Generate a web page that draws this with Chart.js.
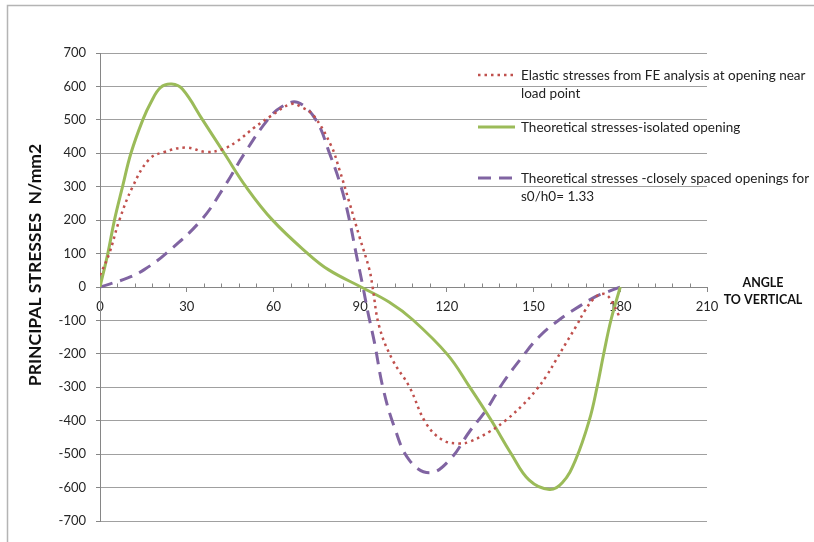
<!DOCTYPE html>
<html>
<head>
<meta charset="utf-8">
<title>Principal stresses</title>
<script src="https://cdn.jsdelivr.net/npm/chart.js"></script>
<style>
  body { margin: 0; background: #fff; }
</style>
</head>
<body>
<canvas id="stress-chart" width="814" height="542"></canvas>
<script>
// angle to vertical (degrees) and principal stress (N/mm2)
const feAngles = [0, 3.2, 6.7, 11.3, 17, 22.3, 29.8, 36.7, 42.4, 47.6, 53.4, 59.2, 66, 70, 74, 80, 82.8, 86.3, 89.7, 93.2, 94.3, 96.6, 101.2, 107, 112.8, 118.6, 124.3, 127.8, 134.7, 140.5, 146.2, 150.9, 154.3, 157.8, 161.2, 164.7, 167.6, 170.5, 172.8, 175.1, 177.4, 179.1, 180];
const feStress = [35, 100, 200, 300, 382, 404, 417, 404, 412, 437, 477, 512, 547, 537, 512, 422, 352, 252, 152, 52, 0, -118, -218, -298, -408, -458, -468, -463, -433, -398, -353, -308, -268, -218, -168, -118, -73, -38, -23, -23, -48, -78, -96];

const isolatedAngles = [0, 2.7, 5, 7.8, 10.7, 14.8, 17.6, 21, 24.8, 28.5, 35.5, 43, 50.5, 59.7, 71.9, 79, 90.3, 100, 108.2, 120.3, 127.8, 135.3, 142.2, 148.5, 155.5, 160, 164.5, 169.3, 172, 174.3, 176.8, 180];
const isolatedStress = [0, 100, 200, 300, 400, 500, 552, 597, 607, 592, 500, 400, 300, 200, 100, 52, 0, -45, -98, -203, -298, -398, -498, -578, -606, -585, -518, -398, -298, -198, -98, 0];

const closeAngles = [0, 9.6, 15.3, 22.8, 35, 43, 50, 58, 63, 68.4, 74.7, 79.4, 83.4, 86.3, 88.6, 91, 92.5, 95, 97.8, 101.8, 107, 114, 120.9, 127.8, 133.6, 139.3, 146.2, 152, 158.9, 165.8, 171.6, 175.1, 180];
const closeStress = [0, 27, 52, 100, 200, 300, 400, 500, 540, 552, 500, 400, 300, 200, 100, 0, -68, -168, -298, -418, -518, -556, -518, -433, -368, -288, -208, -148, -98, -58, -28, -16, 0];

const seriesNames = [
    ['Elastic stresses from FE analysis at opening near', 'load point'],
    ['Theoretical stresses-isolated opening'],
    ['Theoretical stresses -closely spaced openings for', 's0/h0= 1.33']
];
const xLabelEvery = 30;
const yAxisTitle = 'PRINCIPAL STRESSES  N/mm2';
const xAxisTitle = ['ANGLE', 'TO VERTICAL'];

const toPoints = (xs, ys) => xs.map((x, i) => ({ x: x, y: ys[i] }));

const GRAY = '#868686';
const TEXT = '#262626';

const extras = {
    id: 'extras',
    beforeDraw(chart) {
        // chart border (top and left only, as in the original)
        const ctx = chart.ctx;
        ctx.save();
        ctx.strokeStyle = '#b4b4b4';
        ctx.lineWidth = 1.5;
        ctx.beginPath();
        ctx.moveTo(7.5, chart.height);
        ctx.lineTo(7.5, 5.5);
        ctx.lineTo(chart.width, 5.5);
        ctx.stroke();
        ctx.restore();
    },
    beforeDatasetsDraw(chart) {
        // minor tick marks sit above the axis line
        const ctx = chart.ctx, xs = chart.scales.x, ys = chart.scales.y;
        const y0 = Math.round(ys.getPixelForValue(0)) + 0.5;
        ctx.save();
        ctx.strokeStyle = GRAY;
        ctx.lineWidth = 1;
        xs.ticks.forEach(t => {
            if (t.value % xLabelEvery !== 0) {
                const px = Math.round(xs.getPixelForValue(t.value)) + 0.5;
                ctx.beginPath();
                ctx.moveTo(px, y0 - 4);
                ctx.lineTo(px, y0);
                ctx.stroke();
            }
        });
        ctx.restore();
    },
    afterDraw(chart) {
        const ctx = chart.ctx, area = chart.chartArea, ys = chart.scales.y;
        const y0 = ys.getPixelForValue(0);
        ctx.save();

        // y axis title
        ctx.fillStyle = '#111';
        ctx.font = 'bold 17.5px Lato';
        ctx.textAlign = 'center';
        ctx.textBaseline = 'middle';
        ctx.translate(35, (area.top + area.bottom) / 2 - 22);
        ctx.rotate(-Math.PI / 2);
        ctx.fillText(yAxisTitle, 0, 0);
        ctx.setTransform(1, 0, 0, 1, 0, 0);

        // x axis title, right of the axis end
        ctx.font = 'bold 12.5px Lato';
        ctx.fillText(xAxisTitle[0], area.right + 56, y0 - 4.5);
        ctx.fillText(xAxisTitle[1], area.right + 56, y0 + 12.5);

        // legend
        const legendY = [75, 127, 178];
        ctx.textAlign = 'left';
        ctx.font = '13.5px Lato';
        chart.data.datasets.forEach((ds, i) => {
            ctx.strokeStyle = ds.borderColor;
            ctx.lineWidth = ds.borderWidth;
            ctx.setLineDash(ds.borderDash || []);
            ctx.beginPath();
            ctx.moveTo(478, legendY[i]);
            ctx.lineTo(515, legendY[i]);
            ctx.stroke();
            ctx.setLineDash([]);
            ctx.fillStyle = '#222';
            ds.label.forEach((line, k) => {
                ctx.fillText(line, 521, legendY[i] + 1 + k * 17.5);
            });
        });
        ctx.restore();
    }
};

const ctx = document.getElementById('stress-chart').getContext('2d');
new Chart(ctx, {
    type: 'scatter',
    data: {
        datasets: [{
            label: seriesNames[0],
            data: toPoints(feAngles, feStress),
            borderColor: '#C0504D',
            borderWidth: 2.5,
            borderDash: [2.5, 4],
            showLine: true,
            pointRadius: 0,
            tension: 0.4
        }, {
            label: seriesNames[1],
            data: toPoints(isolatedAngles, isolatedStress),
            borderColor: '#9BBB59',
            borderWidth: 3,
            showLine: true,
            pointRadius: 0,
            tension: 0.4
        }, {
            label: seriesNames[2],
            data: toPoints(closeAngles, closeStress),
            borderColor: '#8064A2',
            borderWidth: 3,
            borderDash: [13, 8],
            showLine: true,
            pointRadius: 0,
            tension: 0.4
        }]
    },
    options: {
        responsive: false,
        animation: false,
        devicePixelRatio: 1,
        layout: { padding: { left: 0, top: 53, right: 107, bottom: 21 } },
        plugins: {
            legend: { display: false },
            tooltip: { enabled: false }
        },
        scales: {
            x: {
                type: 'linear',
                position: { y: 0 },
                min: 0,
                max: 210,
                ticks: {
                    stepSize: 6,
                    autoSkip: false,
                    maxRotation: 0,
                    padding: 8,
                    color: TEXT,
                    font: { family: 'Lato', size: 13 },
                    callback: v => (v % xLabelEvery === 0 ? v : '')
                },
                grid: {
                    drawOnChartArea: false,
                    tickLength: 4,
                    tickColor: c => (c.tick && c.tick.value % xLabelEvery === 0 ? GRAY : 'rgba(0,0,0,0)')
                },
                border: { color: GRAY }
            },
            y: {
                min: -700,
                max: 700,
                ticks: {
                    stepSize: 100,
                    padding: 10,
                    color: TEXT,
                    font: { family: 'Lato', size: 13 }
                },
                grid: { color: '#a0a0a0', tickLength: 4, tickColor: GRAY },
                border: { color: GRAY },
                afterFit: s => { s.width = 100; }
            }
        }
    },
    plugins: [extras]
});
</script>
</body>
</html>
